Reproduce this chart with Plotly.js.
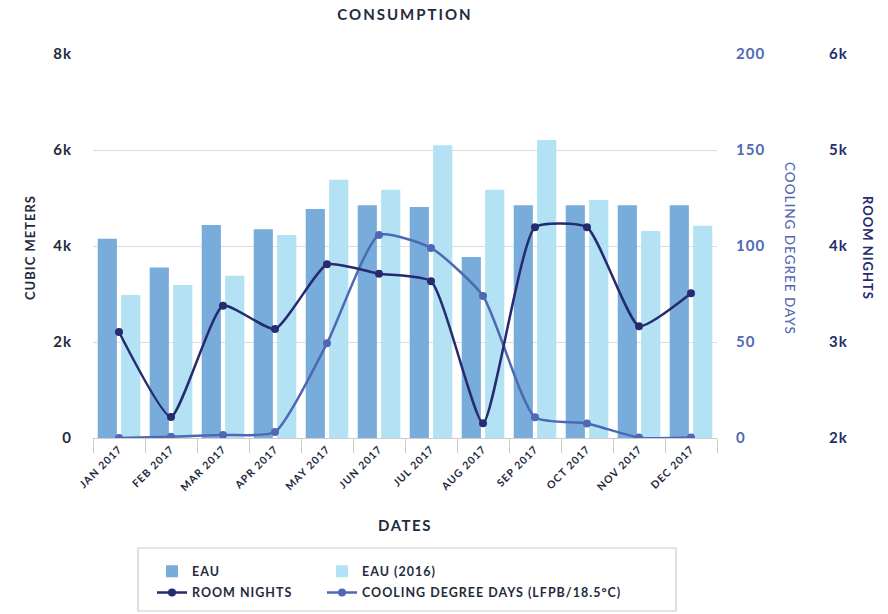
<!DOCTYPE html>
<html>
<head>
<meta charset="utf-8">
<script src="https://cdn.plot.ly/plotly-3.0.1.min.js"></script>
<style>
html,body{margin:0;padding:0;background:#fff;}
#chart{width:888px;height:614px;}
svg text{letter-spacing:1px;}
.g-gtitle text{letter-spacing:2px !important;}
.g-xtitle text{letter-spacing:1.5px !important;}
</style>
</head>
<body>
<div id="chart"></div>
<script>
const months = ["JAN 2017","FEB 2017","MAR 2017","APR 2017","MAY 2017","JUN 2017","JUL 2017","AUG 2017","SEP 2017","OCT 2017","NOV 2017","DEC 2017"];
const eau = [4150, 3550, 4440, 4350, 4770, 4850, 4810, 3770, 4850, 4850, 4850, 4850];
const eau2016 = [2980, 3190, 3380, 4230, 5380, 5170, 6100, 5170, 6210, 4960, 4310, 4420];
const roomNights = [3104, 2220, 3378, 3135, 3809, 3711, 3632, 2153, 4195, 4195, 3164, 3507];
const coolingDegreeDays = [0, 0.7, 1.6, 3.1, 49.3, 105.7, 99, 74, 10.8, 7.6, 0.2, 0.2];

const FONT = "Lato, 'Open Sans', sans-serif";
const DARK = "#1f2b3e";
const NAVY = "#262a6e";
const MID = "#4f68b3";

const W = 888, H = 614;
const L = 93, R = 40, T = 54, B = 176;
const PW = W - L - R, PH = H - T - B;
const px = x => (x - L) / PW;
const py = y => (T + PH - y) / PH;

const traces = [
  {type:"bar", name:"EAU", x:months, y:eau, marker:{color:"#78acdb"}, yaxis:"y",
   legend:"legend", legendgroup:"a", hoverinfo:"skip"},
  {type:"bar", name:"EAU (2016)", x:months, y:eau2016, marker:{color:"#b3e2f4"}, yaxis:"y",
   legend:"legend2", legendgroup:"b", hoverinfo:"skip"},
  {type:"scatter", mode:"lines+markers", name:"ROOM NIGHTS", x:months, y:roomNights, yaxis:"y3",
   line:{color:NAVY, width:2.5, shape:"spline", smoothing:0.5}, marker:{color:NAVY, size:8},
   legend:"legend", legendgroup:"c", hoverinfo:"skip"},
  {type:"scatter", mode:"lines+markers", name:"COOLING DEGREE DAYS (LFPB/18.5°C)", x:months, y:coolingDegreeDays, yaxis:"y2",
   line:{color:MID, width:2.5, shape:"spline", smoothing:0.55}, marker:{color:MID, size:8},
   legend:"legend2", legendgroup:"d", hoverinfo:"skip"}
];

const legendCommon = {
  orientation:"v", xref:"container", yref:"container", xanchor:"left", yanchor:"middle",
  y:1-582/H, tracegroupgap:2, bgcolor:"rgba(0,0,0,0)", borderwidth:0,
  font:{family:FONT, size:12.5, color:DARK, weight:700}, itemclick:false, itemdoubleclick:false
};

const layout = {
  width:W, height:H,
  margin:{l:L, r:R, t:T, b:B, autoexpand:false},
  paper_bgcolor:"#fff", plot_bgcolor:"#fff",
  font:{family:FONT, color:DARK},
  showlegend:true,
  barmode:"group", bargap:0.1, bargroupgap:0.18,
  title:{text:"CONSUMPTION", x:px(405), xref:"paper", xanchor:"center", y:1-15/H, yanchor:"middle",
         font:{family:FONT, size:15, color:DARK, weight:700}},
  xaxis:{type:"category", range:[-0.5, 11.5], domain:[0, 624/PW], tickson:"boundaries", ticks:"outside", ticklen:14, tickcolor:"#cccccc",
         showline:true, linecolor:"#cccccc", linewidth:1, showgrid:false, tickangle:-45,
         tickfont:{family:FONT, size:10.5, color:DARK, weight:700},
         title:{text:"DATES", standoff:28, font:{family:FONT, size:15, color:DARK, weight:700}}},
  yaxis:{range:[0,8000], dtick:2000, tickformat:"~s", showgrid:true, gridcolor:"#dddddd", zeroline:false,
         showline:false, ticklabelstandoff:20, tickfont:{family:FONT, size:15, color:DARK, weight:700}},
  yaxis2:{overlaying:"y", side:"right", anchor:"x", range:[0,200], dtick:50, showgrid:false, zeroline:false,
          showline:false, ticklabelstandoff:18, tickfont:{family:FONT, size:15, color:MID, weight:700}},
  yaxis3:{overlaying:"y", side:"right", anchor:"free", position:px(814), range:[2000,6000], dtick:1000, tickformat:"~s",
          showgrid:false, zeroline:false, showline:false, ticklabelstandoff:14,
          tickfont:{family:FONT, size:15, color:NAVY, weight:700}},
  legend:Object.assign({}, legendCommon, {x:152/W}),
  legend2:Object.assign({}, legendCommon, {x:322/W}),
  shapes:[{type:"rect", xref:"paper", yref:"paper", x0:px(138), x1:px(676), y0:py(548), y1:py(611),
           line:{color:"#cccccc", width:1.2}, fillcolor:"rgba(0,0,0,0)", layer:"below"}],
  annotations:[
    {text:"CUBIC METERS", xref:"paper", yref:"paper", x:px(30), y:py(248), textangle:-90, showarrow:false,
     xanchor:"center", yanchor:"middle", font:{family:FONT, size:13, color:DARK, weight:700}},
    {text:"COOLING DEGREE DAYS", xref:"paper", yref:"paper", x:px(790), y:py(248), textangle:90, showarrow:false,
     xanchor:"center", yanchor:"middle", font:{family:FONT, size:13.5, color:MID, weight:500}},
    {text:"ROOM NIGHTS", xref:"paper", yref:"paper", x:px(868), y:py(248), textangle:90, showarrow:false,
     xanchor:"center", yanchor:"middle", font:{family:FONT, size:13, color:NAVY, weight:700}}
  ]
};

Plotly.newPlot("chart", traces, layout, {displayModeBar:false, staticPlot:true});
</script>
</body>
</html>
